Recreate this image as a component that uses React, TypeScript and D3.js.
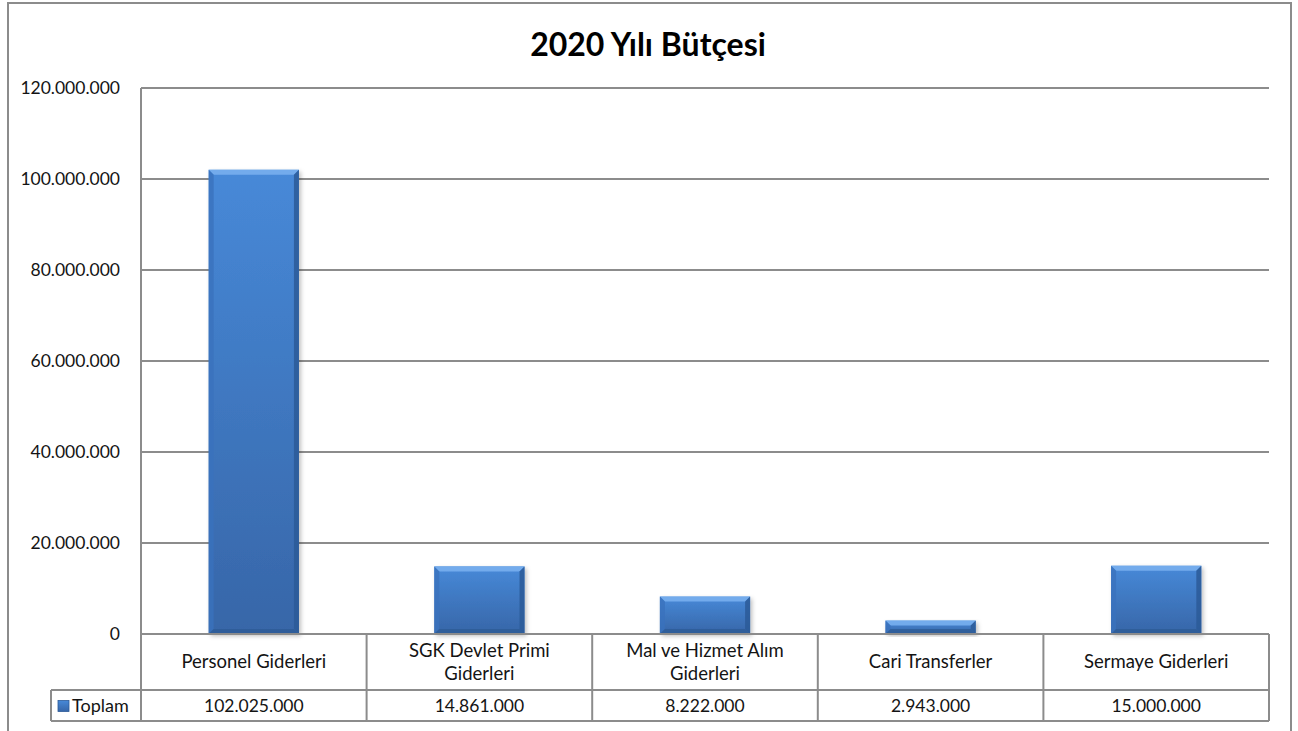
import { useEffect, useRef } from 'react';
import * as d3 from 'd3';

const categories = [
  'Personel Giderleri',
  'SGK Devlet Primi Giderleri',
  'Mal ve Hizmet Alım Giderleri',
  'Cari Transferler',
  'Sermaye Giderleri',
];
// wrapped category labels as shown in the table row
const categoryLines = [
  ['Personel Giderleri'],
  ['SGK Devlet Primi', 'Giderleri'],
  ['Mal ve Hizmet Alım', 'Giderleri'],
  ['Cari Transferler'],
  ['Sermaye Giderleri'],
];
const values = [102025000, 14861000, 8222000, 2943000, 15000000];
const yTicks = [0, 20000000, 40000000, 60000000, 80000000, 100000000, 120000000];
const seriesName = 'Toplam';
const title = '2020 Yılı Bütçesi';

const fmt = (v: number) => d3.format(',')(v).replace(/,/g, '.');

export default function App() {
  const ref = useRef<SVGSVGElement>(null);

  useEffect(() => {
    document.body.style.margin = '0';
    if (!ref.current) return;
    const svg = d3.select(ref.current);
    svg.selectAll('*').remove();

    const W = 1298;
    const H = 731;
    const plot = { left: 141, right: 1269, top: 88, bottom: 634 };
    const catRowBottom = 690;
    const valRowBottom = 721;
    const legendLeft = 51;
    const font = 'Lato, "Open Sans", sans-serif';
    const gridColor = '#8c8c8c';
    const textColor = '#141414';

    const x = d3.scaleBand<string>()
      .domain(categories)
      .range([plot.left, plot.right])
      .paddingInner(0)
      .paddingOuter(0);
    const y = d3.scaleLinear()
      .domain([0, 120000000])
      .range([plot.bottom, plot.top]);

    const defs = svg.append('defs');
    const vg = defs.append('linearGradient')
      .attr('id', 'barV').attr('x1', '0').attr('y1', '0').attr('x2', '0').attr('y2', '1');
    vg.append('stop').attr('offset', '0%').attr('stop-color', '#4789d8');
    vg.append('stop').attr('offset', '100%').attr('stop-color', '#3766a8');

    const shadow = defs.append('filter').attr('id', 'shadow')
      .attr('x', '-10%').attr('y', '-10%').attr('width', '130%').attr('height', '130%');
    shadow.append('feDropShadow')
      .attr('dx', 2).attr('dy', 2).attr('stdDeviation', 2)
      .attr('flood-color', '#000').attr('flood-opacity', 0.25);

    // outer chart border
    svg.append('rect')
      .attr('x', 8).attr('y', 3)
      .attr('width', 1283).attr('height', H + 20)
      .attr('fill', '#fff')
      .attr('stroke', gridColor).attr('stroke-width', 2);

    // title
    svg.append('text')
      .attr('x', 648)
      .attr('y', 56)
      .attr('text-anchor', 'middle')
      .style('font-family', font)
      .style('font-size', '32px')
      .style('font-weight', 'bold')
      .style('fill', '#000')
      .text(title);

    // gridlines
    svg.append('g')
      .selectAll('line')
      .data(yTicks)
      .join('line')
      .attr('x1', plot.left).attr('x2', plot.right)
      .attr('y1', d => y(d)).attr('y2', d => y(d))
      .attr('stroke', gridColor).attr('stroke-width', 2);

    // left axis line
    svg.append('line')
      .attr('x1', plot.left).attr('x2', plot.left)
      .attr('y1', plot.top).attr('y2', valRowBottom)
      .attr('stroke', gridColor).attr('stroke-width', 2);

    // y tick labels
    svg.append('g')
      .selectAll('text')
      .data(yTicks)
      .join('text')
      .attr('x', 120)
      .attr('y', d => y(d))
      .attr('dy', '0.35em')
      .attr('text-anchor', 'end')
      .style('font-family', font)
      .style('font-size', '17.5px')
      .style('fill', textColor)
      .text(d => fmt(d));

    // bars
    const bw = x.bandwidth() * 0.4;
    const bars = svg.append('g')
      .selectAll('g')
      .data(categories.map((c, i) => ({ c, v: values[i] })))
      .join('g');

    bars.each(function (d) {
      const g = d3.select(this);
      const bx = (x(d.c) as number) + (x.bandwidth() - bw) / 2;
      const by = y(d.v);
      const bh = y(0) - by;
      const e = Math.min(5, bh / 2.5);
      g.append('rect')
        .attr('x', bx).attr('y', by).attr('width', bw).attr('height', bh)
        .attr('fill', 'url(#barV)')
        .attr('filter', 'url(#shadow)');
      // bevel: top light, sides/bottom darker
      g.append('path')
        .attr('d', `M${bx},${by}L${bx + bw},${by}L${bx + bw - e},${by + e}L${bx + e},${by + e}Z`)
        .attr('fill', '#78afee').attr('opacity', 0.9);
      g.append('path')
        .attr('d', `M${bx},${by}L${bx + e},${by + e}L${bx + e},${by + bh - e}L${bx},${by + bh}Z`)
        .attr('fill', '#3a72bd').attr('opacity', 0.8);
      g.append('path')
        .attr('d', `M${bx + bw},${by}L${bx + bw - e},${by + e}L${bx + bw - e},${by + bh - e}L${bx + bw},${by + bh}Z`)
        .attr('fill', '#2c5a98').attr('opacity', 0.85);
      g.append('path')
        .attr('d', `M${bx},${by + bh}L${bx + e},${by + bh - e}L${bx + bw - e},${by + bh - e}L${bx + bw},${by + bh}Z`)
        .attr('fill', '#2d5b96').attr('opacity', 0.8);
    });

    // data table
    const table = svg.append('g');
    table.append('line')
      .attr('x1', plot.left).attr('x2', plot.right)
      .attr('y1', plot.bottom).attr('y2', plot.bottom)
      .attr('stroke', gridColor).attr('stroke-width', 2);
    table.append('line')
      .attr('x1', legendLeft).attr('x2', plot.right)
      .attr('y1', catRowBottom).attr('y2', catRowBottom)
      .attr('stroke', gridColor).attr('stroke-width', 2);
    table.append('line')
      .attr('x1', legendLeft).attr('x2', plot.right)
      .attr('y1', valRowBottom).attr('y2', valRowBottom)
      .attr('stroke', gridColor).attr('stroke-width', 2);
    table.append('line')
      .attr('x1', legendLeft).attr('x2', legendLeft)
      .attr('y1', catRowBottom).attr('y2', valRowBottom)
      .attr('stroke', gridColor).attr('stroke-width', 2);
    // column dividers
    table.selectAll('line.col')
      .data(categories)
      .join('line')
      .attr('class', 'col')
      .attr('x1', d => (x(d) as number) + x.bandwidth())
      .attr('x2', d => (x(d) as number) + x.bandwidth())
      .attr('y1', plot.bottom).attr('y2', valRowBottom)
      .attr('stroke', gridColor).attr('stroke-width', 2);

    // category labels
    const catMid = (plot.bottom + catRowBottom) / 2;
    table.selectAll('text.cat')
      .data(categories.map((c, i) => ({ c, lines: categoryLines[i] })))
      .join('text')
      .attr('class', 'cat')
      .attr('text-anchor', 'middle')
      .style('font-family', font)
      .style('font-size', '18.5px')
      .style('fill', textColor)
      .each(function (d) {
        const t = d3.select(this);
        const cx = (x(d.c) as number) + x.bandwidth() / 2;
        const lh = 23;
        const y0 = catMid - ((d.lines.length - 1) * lh) / 2;
        d.lines.forEach((ln, k) => {
          t.append('tspan')
            .attr('x', cx)
            .attr('y', y0 + k * lh)
            .attr('dy', '0.35em')
            .text(ln);
        });
      });

    // value labels
    const valMid = (catRowBottom + valRowBottom) / 2;
    table.selectAll('text.val')
      .data(categories.map((c, i) => ({ c, v: values[i] })))
      .join('text')
      .attr('class', 'val')
      .attr('x', d => (x(d.c) as number) + x.bandwidth() / 2)
      .attr('y', valMid)
      .attr('dy', '0.35em')
      .attr('text-anchor', 'middle')
      .style('font-family', font)
      .style('font-size', '17.5px')
      .style('fill', textColor)
      .text(d => fmt(d.v));

    // legend key
    table.append('rect')
      .attr('x', 58).attr('y', valMid - 5)
      .attr('width', 11).attr('height', 11)
      .attr('fill', 'url(#barV)')
      .attr('stroke', '#2c5a98').attr('stroke-width', 0.8);
    table.append('text')
      .attr('x', 72).attr('y', valMid)
      .attr('dy', '0.35em')
      .style('font-family', font)
      .style('font-size', '18px')
      .style('fill', textColor)
      .text(seriesName);

    svg.attr('width', W).attr('height', H);
  }, []);

  return <svg ref={ref} width={1298} height={731} style={{ display: 'block' }} />;
}
